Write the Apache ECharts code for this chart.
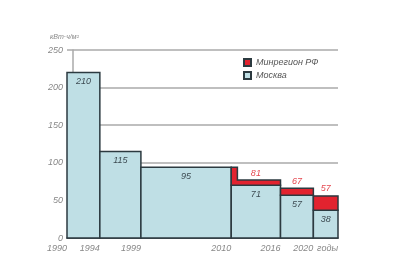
<!DOCTYPE html>
<html>
<head>
<meta charset="utf-8">
<script src="https://cdn.jsdelivr.net/npm/echarts@6/dist/echarts.min.js"></script>
<style>
  html, body { margin: 0; background: #fff; }
  #chart { width: 394px; height: 256px; }
</style>
</head>
<body>
<div id="chart"></div>
<script>
// period edges (years), last one is the "годы" end of the axis
const edges = [1990, 1994, 1999, 2010, 2016, 2020, 2023];
const xTickLabels = ['1990', '1994', '1999', '2010', '2016', '2020', 'годы'];

// Москва: bar heights as drawn, and the numbers printed on them
const moscowHeight = [220, 115, 94, 70, 57, 37];
const moscowText = ['210', '115', '95', '71', '57', '38'];

// Минрегион РФ: top of red band, printed number, small notch at 2010
const regionHeight = [null, null, null, 77, 66, 56];
const regionText = [null, null, null, '81', '67', '57'];
const regionNotch = [null, null, null, [2010.75, 94], null, null];

const yTicks = [0, 50, 100, 150, 200, 250];

const BLUE = '#bfdfe5';
const RED = '#e2232f';
const DARK = '#2c3a40';
const GRID = '#aaaaaa';
const FONT = 'Liberation Sans';

const chart = echarts.init(document.getElementById('chart'));

const moscowData = moscowHeight.map((h, i) => [edges[i], edges[i + 1], h, i]);
const regionData = [];
regionHeight.forEach((h, i) => {
    if (h !== null) regionData.push([edges[i], edges[i + 1], moscowHeight[i], h, i]);
});

function renderMoscow(params, api) {
    const i = api.value(3);
    const p0 = api.coord([api.value(0), 0]);
    const p1 = api.coord([api.value(1), api.value(2)]);
    return {
        type: 'group',
        children: [
            {
                type: 'rect',
                shape: { x: p0[0], y: p1[1], width: p1[0] - p0[0], height: p0[1] - p1[1] },
                style: { fill: BLUE, stroke: DARK, lineWidth: 1.5 }
            },
            {
                type: 'text',
                x: (p0[0] + p1[0]) / 2,
                y: p1[1] + 9,
                style: {
                    text: moscowText[i], fill: '#3d4b52', fontSize: 9, fontStyle: 'italic',
                    fontFamily: FONT, align: 'center', verticalAlign: 'middle'
                }
            }
        ]
    };
}

function renderRegion(params, api) {
    const i = api.value(4);
    const x0 = api.value(0), x1 = api.value(1);
    const low = api.value(2), high = api.value(3);
    const notch = regionNotch[i];
    let pts;
    if (notch) {
        pts = [
            api.coord([x0, low]), api.coord([x0, notch[1]]), api.coord([notch[0], notch[1]]),
            api.coord([notch[0], high]), api.coord([x1, high]), api.coord([x1, low])
        ];
    } else {
        pts = [api.coord([x0, low]), api.coord([x0, high]), api.coord([x1, high]), api.coord([x1, low])];
    }
    const top = api.coord([(x0 + x1) / 2, high]);
    return {
        type: 'group',
        children: [
            {
                type: 'polygon',
                shape: { points: pts },
                style: { fill: RED, stroke: DARK, lineWidth: 1.5 }
            },
            {
                type: 'text',
                x: top[0],
                y: top[1] - 7,
                style: {
                    text: regionText[i], fill: '#e5474f', fontSize: 9, fontStyle: 'italic',
                    fontFamily: FONT, align: 'center', verticalAlign: 'middle'
                }
            }
        ]
    };
}

const option = {
    animation: false,
    title: {
        text: 'кВт·ч/м²',
        left: 45,
        top: 29,
        textStyle: { fontSize: 7, fontStyle: 'italic', fontWeight: 'normal', color: '#888', fontFamily: FONT }
    },
    legend: {
        data: ['Минрегион РФ', 'Москва'],
        orient: 'vertical',
        left: 238,
        top: 53,
        icon: 'rect',
        itemWidth: 7,
        itemHeight: 7,
        itemGap: 4,
        textStyle: { fontSize: 9, fontStyle: 'italic', color: '#555', fontFamily: FONT }
    },
    grid: { left: 67, right: 56, top: 50, bottom: 18 },
    xAxis: {
        type: 'value',
        min: edges[0],
        max: edges[edges.length - 1],
        splitLine: { show: false },
        axisTick: { show: false },
        axisLine: { lineStyle: { color: DARK, width: 1.5 } },
        axisLabel: {
            customValues: edges,
            formatter: v => xTickLabels[edges.indexOf(v)],
            align: 'right',
            margin: 6,
            fontSize: 9,
            fontStyle: 'italic',
            color: '#888',
            fontFamily: FONT
        }
    },
    yAxis: {
        type: 'value',
        min: yTicks[0],
        max: yTicks[yTicks.length - 1],
        interval: 50,
        offset: -6,
        axisTick: { show: false },
        axisLine: { show: true, lineStyle: { color: GRID, width: 1.5 } },
        splitLine: { lineStyle: { color: GRID, width: 1.5 } },
        axisLabel: { margin: 10, fontSize: 9, fontStyle: 'italic', color: '#888', fontFamily: FONT }
    },
    series: [
        {
            name: 'Москва',
            type: 'custom',
            renderItem: renderMoscow,
            encode: { x: [0, 1], y: 2 },
            itemStyle: { color: BLUE, borderColor: DARK, borderWidth: 1 },
            data: moscowData,
            z: 2
        },
        {
            name: 'Минрегион РФ',
            type: 'custom',
            renderItem: renderRegion,
            encode: { x: [0, 1], y: [2, 3] },
            itemStyle: { color: RED, borderColor: DARK, borderWidth: 1 },
            data: regionData,
            z: 3
        }
    ]
};

chart.setOption(option);
</script>
</body>
</html>
